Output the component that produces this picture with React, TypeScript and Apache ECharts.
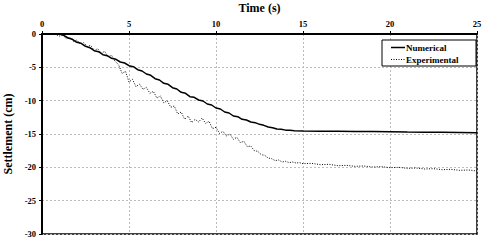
import React, { useEffect, useRef } from "react";
import * as echarts from "echarts";

const xTicks = [0, 5, 10, 15, 20, 25];
const yTicks = [0, -5, -10, -15, -20, -25, -30];
const seriesNames = ["Numerical", "Experimental"];

const numericalPoints: [number, number][] = [
  [0, 0], [0.5, 0], [1.0, 0], [1.25, -0.2], [1.5, -0.6], [1.75, -0.8], [2.0, -1.25], [2.25, -1.4],
  [2.5, -1.85], [2.75, -2.05], [3.0, -2.5], [3.25, -2.65], [3.5, -3.1], [3.75, -3.25],
  [4.0, -3.65], [4.25, -3.8], [4.5, -4.2], [4.75, -4.35], [5.0, -4.75], [5.25, -4.9],
  [5.5, -5.35], [5.75, -5.55], [6.0, -6.0], [6.25, -6.2], [6.5, -6.7], [6.75, -6.9],
  [7.0, -7.4], [7.25, -7.55], [7.5, -8.05], [7.75, -8.25], [8.0, -8.75], [8.25, -8.9],
  [8.5, -9.4], [8.75, -9.5], [9.0, -9.9], [9.25, -10.05], [9.5, -10.5], [9.75, -10.65],
  [10.0, -11.1], [10.25, -11.25], [10.5, -11.7], [10.75, -11.85], [11.0, -12.3], [11.25, -12.4],
  [11.5, -12.8], [11.75, -12.9], [12.0, -13.2], [12.25, -13.3], [12.5, -13.55], [12.75, -13.7],
  [13.0, -13.95], [13.25, -14.05], [13.5, -14.25], [13.75, -14.3], [14.0, -14.42], [14.25, -14.45],
  [14.5, -14.52], [15, -14.55], [16, -14.58], [17, -14.6], [18, -14.62], [19, -14.64],
  [20, -14.66], [21, -14.7], [22, -14.72], [23, -14.75], [24, -14.78], [25, -14.8],
];

const experimentalPoints: [number, number][] = [
  [0, 0], [0.2, 0], [0.4, 0], [0.6, 0], [0.8, -0.1],
  [1.0, -0.3], [1.2, -0.2], [1.4, -0.7], [1.6, -0.5], [1.8, -1.1], [2.0, -0.9], [2.2, -1.5],
  [2.4, -1.3], [2.6, -1.9], [2.8, -1.7], [3.0, -2.5], [3.2, -2.2], [3.4, -2.9], [3.6, -2.6],
  [3.8, -3.4], [4.0, -3.2], [4.2, -4.1], [4.4, -4.6], [4.6, -5.9], [4.8, -5.6], [5.0, -7.2],
  [5.2, -6.8], [5.4, -7.9], [5.6, -7.5], [5.8, -8.3], [6.0, -8.0], [6.2, -8.9], [6.4, -8.6],
  [6.6, -9.6], [6.8, -9.3], [7.0, -10.3], [7.2, -10.0], [7.4, -11.0], [7.6, -10.8], [7.8, -12.0],
  [8.0, -11.7], [8.2, -12.8], [8.4, -12.3], [8.6, -13.3], [8.8, -12.8], [9.0, -13.2], [9.2, -12.6],
  [9.4, -13.4], [9.6, -13.1], [9.8, -14.2], [10.0, -14.0], [10.2, -14.9], [10.4, -14.6],
  [10.6, -15.3], [10.8, -15.0], [11.0, -15.8], [11.2, -15.5], [11.4, -16.3], [11.6, -16.1],
  [11.8, -16.9], [12.0, -16.8], [12.2, -17.5], [12.4, -17.6], [12.6, -18.1], [12.8, -18.2],
  [13.0, -18.6], [13.2, -18.7], [13.4, -19.0], [13.6, -18.9], [13.8, -19.2], [14.0, -19.1],
  [14.2, -19.3], [14.4, -19.2], [14.6, -19.35], [14.8, -19.3], [15.0, -19.45],
  [15.5, -19.4], [16, -19.6], [16.5, -19.55], [17, -19.75], [17.5, -19.7], [18, -19.85],
  [18.5, -19.8], [19, -19.95], [19.5, -19.9], [20, -20.05], [20.5, -20.0], [21, -20.15],
  [21.5, -20.1], [22, -20.25], [22.5, -20.2], [23, -20.35], [23.5, -20.3], [24, -20.45],
  [24.5, -20.4], [25, -20.55],
];

const FONT = "'Liberation Serif', 'Times New Roman', serif";

export default function App() {
  const ref = useRef<HTMLDivElement>(null);
  useEffect(() => {
    document.body.style.margin = "0";
    if (!ref.current) return;
    const chart = echarts.init(ref.current, null, { renderer: "svg" });
    const legendText = { fontFamily: FONT, fontWeight: "bold", fontSize: 9, fill: "#000" };
    chart.setOption({
      animation: false,
      backgroundColor: "#ffffff",
      grid: {
        left: 42, right: 8, top: 34, bottom: 8,
        containLabel: false, outerBoundsMode: "none",
        show: true, borderColor: "#000", borderWidth: 1.5,
      },
      graphic: [
        { type: "rect", shape: { x: 382, y: 40, width: 94, height: 26 },
          style: { fill: "#fff", stroke: "#000", lineWidth: 1 }, z: 100 },
        { type: "line", shape: { x1: 391, y1: 47.5, x2: 405, y2: 47.5 },
          style: { stroke: "#000", lineWidth: 1.5 }, z: 101 },
        { type: "text", x: 406, y: 47.5, style: { ...legendText, text: seriesNames[0], verticalAlign: "middle" }, z: 101 },
        { type: "line", shape: { x1: 391, y1: 59.5, x2: 405, y2: 59.5 },
          style: { stroke: "#000", lineWidth: 1, lineDash: [1, 1.5] }, z: 101 },
        { type: "text", x: 406, y: 59.5, style: { ...legendText, text: seriesNames[1], verticalAlign: "middle" }, z: 101 },
      ],
      xAxis: {
        type: "value", position: "top", min: 0, max: 25, interval: 5,
        name: "Time (s)", nameLocation: "middle", nameGap: 18,
        nameTextStyle: { fontFamily: FONT, fontWeight: "bold", fontSize: 12, color: "#000" },
        axisLine: { lineStyle: { color: "#000", width: 2 } },
        axisTick: { show: true, length: 3, lineStyle: { color: "#000" } },
        axisLabel: { fontFamily: FONT, fontWeight: "bold", fontSize: 8.5, color: "#000", margin: 6,
          formatter: (v: number) => (xTicks.includes(v) ? String(v) : "") },
        splitLine: { show: true, lineStyle: { color: "#bbb", type: [2, 2], width: 1 } },
      },
      yAxis: {
        type: "value", min: -30, max: 0, interval: 5,
        name: "Settlement (cm)", nameLocation: "middle", nameGap: 23, nameRotate: 90,
        nameTextStyle: { fontFamily: FONT, fontWeight: "bold", fontSize: 12, color: "#000" },
        axisLine: { lineStyle: { color: "#000", width: 2 } },
        axisTick: { show: true, length: 3, lineStyle: { color: "#000" } },
        axisLabel: { fontFamily: FONT, fontWeight: "bold", fontSize: 8.5, color: "#000", margin: 6,
          formatter: (v: number) => (yTicks.includes(v) ? String(v) : "") },
        splitLine: { show: true, lineStyle: { color: "#bbb", type: [2, 2], width: 1 } },
      },
      series: [
        {
          name: seriesNames[0], type: "line", data: numericalPoints, symbol: "none",
          lineStyle: { color: "#000", width: 1.5, type: "solid" },
        },
        {
          name: seriesNames[1], type: "line", data: experimentalPoints, symbol: "none",
          lineStyle: { color: "#000", width: 1, type: [1, 1.5] },
        },
      ],
    });
    return () => chart.dispose();
  }, []);
  return <div ref={ref} style={{ width: 485, height: 242 }} />;
}
